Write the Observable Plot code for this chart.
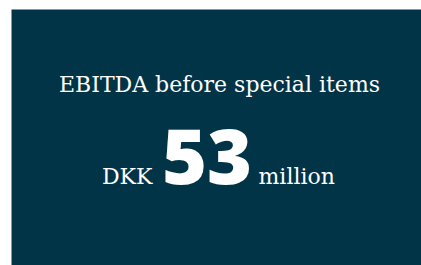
<!DOCTYPE html>
<html>
<head>
<meta charset="utf-8">
<script src="https://cdn.jsdelivr.net/npm/d3@7"></script>
<script src="https://cdn.jsdelivr.net/npm/@observablehq/plot@0.6"></script>
<style>
  html, body { margin: 0; padding: 0; background: #ffffff; }
</style>
</head>
<body>
<div id="chart"></div>
<script>
const titles = ["EBITDA before special items"];
const values = ["53"];
const prefixes = ["DKK"];
const suffixes = ["million"];

const bg = "#023448";
const serif = "'DejaVu Serif', serif";

const chart = Plot.plot({
  width: 421,
  height: 265,
  marginTop: 9,
  marginLeft: 11,
  marginRight: 0,
  marginBottom: 0,
  style: { background: "#ffffff", overflow: "visible" },
  marks: [
    Plot.frame({ fill: bg, stroke: null }),
    Plot.text(titles, {
      text: d => d, frameAnchor: "top-left", textAnchor: "middle", lineAnchor: "middle",
      dx: 208, dy: 75, fill: "#ffffff", fontSize: 22, fontFamily: serif, fontWeight: 300
    }),
    Plot.text(values, {
      text: d => d, frameAnchor: "top-left", textAnchor: "middle", lineAnchor: "middle",
      dx: 195.5, dy: 149.5, fill: "#ffffff", fontSize: 77, fontFamily: "'Open Sans'", fontWeight: 800
    }),
    Plot.text(prefixes, {
      text: d => d, frameAnchor: "top-left", textAnchor: "end", lineAnchor: "middle",
      dx: 141, dy: 167, fill: "#ffffff", fontSize: 22, fontFamily: serif, fontWeight: 300
    }),
    Plot.text(suffixes, {
      text: d => d, frameAnchor: "top-left", textAnchor: "start", lineAnchor: "middle",
      dx: 247, dy: 167, fill: "#ffffff", fontSize: 22, fontFamily: serif, fontWeight: 300
    })
  ]
});
document.getElementById("chart").appendChild(chart);
</script>
</body>
</html>
